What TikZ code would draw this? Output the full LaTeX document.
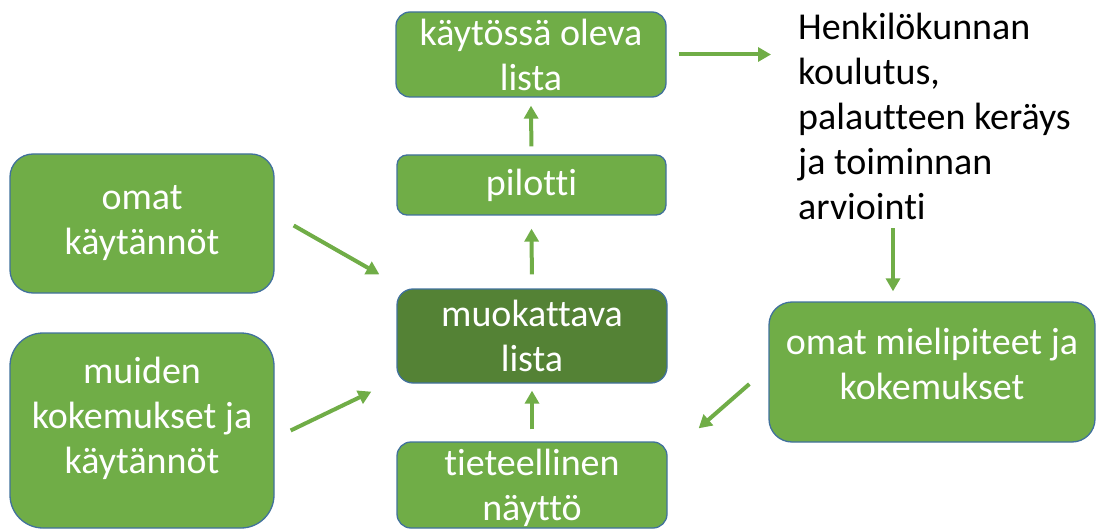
\documentclass[tikz,border=0pt]{standalone}
\usepackage{fontspec}
\setmainfont{Carlito}[Ligatures=NoCommon]
\usetikzlibrary{arrows.meta,calc}
\definecolor{boxgreen}{HTML}{70AD47}
\definecolor{darkgreen}{HTML}{548235}
\definecolor{boxborder}{HTML}{41719C}
\tikzset{
  box/.style={draw=boxborder, line width=1.3pt, fill=boxgreen, text=white,
    align=center, inner sep=0pt, font=\fontsize{38}{45}\selectfont},
  arr/.style={draw=boxgreen, line width=4pt,
    -{Triangle[length=13pt,width=14pt]}},
}
\begin{document}
\begin{tikzpicture}[x=1pt,y=-1pt]
\useasboundingbox (0,0) rectangle (1097,529);
% boxes
\node[box, minimum width=270pt, minimum height=85pt, rounded corners=14pt] (kays) at (531,54.5) {käytössä oleva\\lista};
\node[box, minimum width=269pt, minimum height=60pt, rounded corners=10pt] (pil) at (531.5,185) {pilotti};
\node[box, fill=darkgreen, minimum width=270pt, minimum height=94pt, rounded corners=16pt] (muok) at (532,336) {muokattava\\lista};
\node[box, minimum width=270pt, minimum height=86pt, rounded corners=14pt] (tiet) at (532,485) {};
\node[box, draw=none, fill=none] (tiett) at ($(tiet.center)+(0,3)$) {tieteellinen\\näyttö};
\node[box, minimum width=264pt, minimum height=139pt, rounded corners=23pt] (omat) at (142,223.5) {omat\\käytännöt};
\node[box, minimum width=264pt, minimum height=195pt, rounded corners=33pt] (muid) at (142,430.5) {};
\node[box, draw=none, fill=none] (muidt) at ($(muid.center)+(0,-12)$) {muiden\\kokemukset ja\\käytännöt};
\node[box, minimum width=326pt, minimum height=140pt, rounded corners=23pt] (miel) at (932,372) {};
\node[box, draw=none, fill=none] (mielt) at ($(miel.center)+(0,-8)$) {omat mielipiteet ja\\kokemukset};
\node[anchor=north west, align=left, inner sep=0pt, font=\fontsize{38}{45}\selectfont] (txt) at (798,13) {Henkilökunnan\\koulutus,\\palautteen keräys\\ja toiminnan\\arviointi};
\coordinate (tx) at (893,0);
% arrows
\draw[arr, shorten <=8pt, shorten >=-3pt] (pil.north) -- ($(kays.south)+(0,11)$);
\draw[arr, shorten <=14pt] (muok.north) -- ($(pil.south)+(0,13)$);
\draw[arr, shorten <=12pt] (tiet.north) -- ($(muok.south)+(0,7)$);
\draw[arr, shorten <=12pt] (kays.east) -- ($(kays.east -| txt.west)+(-27,0)$);
\draw[arr] ($(txt.south -| tx)+(0,8)$) -- ($(miel.north -| tx)+(0,-10)$);
\draw[arr] ($(omat.east)+(19,2)$) -- ($(muok.north west)+(-17,-14)$);
\draw[arr] ($(muid.east)+(16,0)$) -- ($(muok.south west)+(-25,8)$);
\draw[arr] ($(miel.west)+(-19,12)$) -- ($(tiet.north east)+(31,-13)$);
\end{tikzpicture}
\end{document}
